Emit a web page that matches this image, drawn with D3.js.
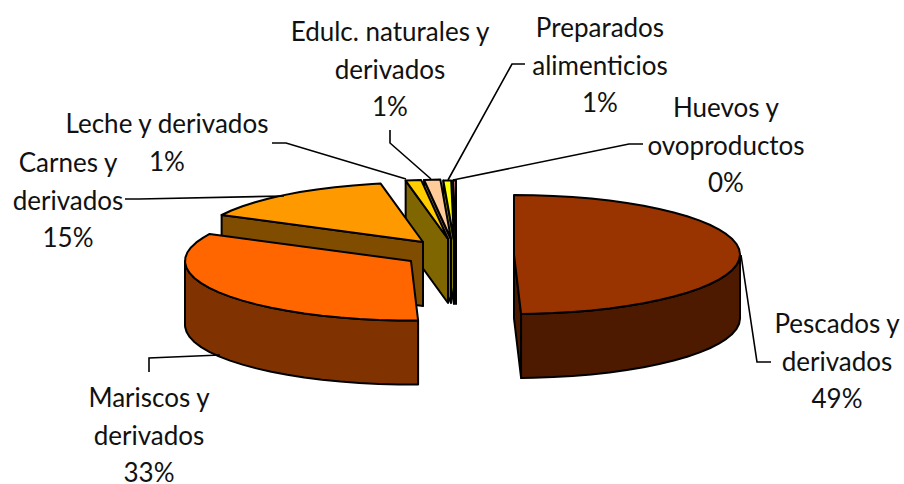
<!DOCTYPE html>
<html>
<head>
<meta charset="utf-8">
<script src="https://cdn.jsdelivr.net/npm/d3@7"></script>
<style>
  html, body { margin: 0; padding: 0; background: #fff; }
  svg { display: block; }
  text { font-family: Lato, sans-serif; font-size: 26px; fill: #111; text-anchor: middle; }
</style>
</head>
<body>
<svg id="chart" width="904" height="484"></svg>
<script>
// data
const categories = ['Pescados y derivados', 'Mariscos y derivados', 'Carnes y derivados', 'Leche y derivados',
  'Edulc. naturales y derivados', 'Preparados alimenticios', 'Huevos y ovoproductos'];
const shares = [49.5, 33, 14.5, 1.1, 1.15, 0.55, 0.2];
const percentLabels = ['49%', '33%', '15%', '1%', '1%', '1%', '0%'];
const nameLines = [['Pescados y', 'derivados'], ['Mariscos y', 'derivados'], ['Carnes y', 'derivados'], ['Leche y derivados'],
  ['Edulc. naturales y', 'derivados'], ['Preparados', 'alimenticios'], ['Huevos y', 'ovoproductos']];

const topColors = ['#993300', '#ff6600', '#ff9900', '#ffcc00', '#ffcc99', '#ffff00', '#ff9999'];
const wallColors = ['#4d1a00', '#803300', '#804c00', '#806600', '#80664c', '#808000', '#804c4c'];

// layout: where each exploded slice has its centre
const centerX = [514, 411, 423, 448, 451, 454, 456];
const centerY = [254.5, 261, 242, 239, 239, 240, 240];
const radiusX = 226;
const radiusY = 59.5;
const depth = 64;
const arcStep = 5 * Math.PI / 180;

const labelX = [837, 149, 68, 167, 390, 600, 726];
const labelY = [333, 407, 172, 133, 41, 37, 117];
const labelGap = 37.5;
const leaders = [
  [[771, 362], [757, 362], [741, 255]],
  [[149, 372], [149, 358], [220, 355]],
  [[125, 199], [139, 199], [284, 196]],
  [[272, 143], [286, 143], [406, 179]],
  [[390, 130], [390, 143], [431, 179]],
  [[525, 64], [512, 64], [448, 180]],
  [[643, 144], [629, 144], [453, 180]],
];

const svg = d3.select('#chart');
const pathLine = d3.line().x((d) => d[0]).y((d) => d[1]);

const pie = d3.pie().sort(null);
const slices = pie(shares).map((s, i) => ({
  ...s,
  name: categories[i],
  index: i,
  x: d3.scaleLinear().domain([-1, 1]).range([centerX[i] - radiusX, centerX[i] + radiusX]),
  y: d3.scaleLinear().domain([-1, 1]).range([centerY[i] - radiusY, centerY[i] + radiusY]),
}));

function rimPoint(s, angle, drop = 0) {
  return [s.x(Math.sin(angle)), s.y(-Math.cos(angle)) + drop];
}

function arcPoints(s, a0, a1, drop = 0) {
  const angles = d3.range(a0, a1, arcStep).concat(a1);
  return angles.map((a) => rimPoint(s, a, drop));
}

function edgeWall(s, angle) {
  const apex = [s.x(0), s.y(0)];
  const rim = rimPoint(s, angle);
  return [apex, rim, [rim[0], rim[1] + depth], [apex[0], apex[1] + depth]];
}

// back to front: the small slices first, the two big ones last
const drawOrder = [6, 5, 4, 3, 2, 1, 0];

drawOrder.forEach((i) => {
  const s = slices[i];
  const g = svg.append('g').attr('class', 'slice').attr('stroke', '#000').attr('stroke-width', 2).attr('stroke-linejoin', 'round');
  const addShape = (points, fill) => {
    g.append('path').attr('d', pathLine(points) + 'Z').attr('fill', fill);
  };

  if (Math.sin(s.startAngle) < 0) addShape(edgeWall(s, s.startAngle), wallColors[i]);
  if (Math.sin(s.endAngle) > 0.001) addShape(edgeWall(s, s.endAngle), wallColors[i]);

  const from = Math.max(s.startAngle, Math.PI / 2);
  const to = Math.min(s.endAngle, Math.PI * 1.5);
  if (from < to) {
    const upper = arcPoints(s, from, to);
    const lower = arcPoints(s, from, to, depth).reverse();
    addShape(upper.concat(lower), wallColors[i]);
  }

  addShape([[s.x(0), s.y(0)]].concat(arcPoints(s, s.startAngle, s.endAngle)), topColors[i]);
});

svg.append('g').selectAll('path')
  .data(leaders)
  .join('path')
  .attr('d', (d) => pathLine(d))
  .attr('fill', 'none')
  .attr('stroke', '#000')
  .attr('stroke-width', 1.6);

slices.forEach((s, i) => {
  const lines = nameLines[i].concat(percentLabels[i]);
  const label = svg.append('text').attr('x', labelX[i]).attr('y', labelY[i]);
  lines.forEach((line, k) => {
    label.append('tspan').attr('x', labelX[i]).attr('y', labelY[i] + k * labelGap).text(line);
  });
});
</script>
</body>
</html>
